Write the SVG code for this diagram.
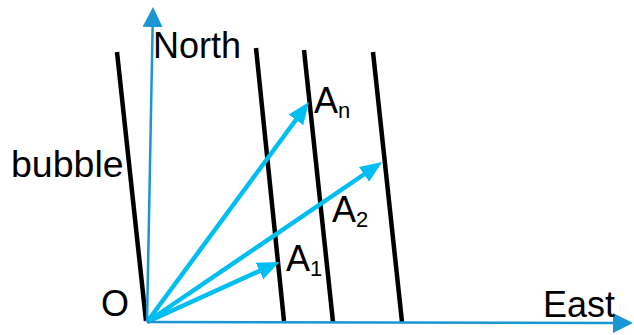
<svg xmlns="http://www.w3.org/2000/svg" width="634" height="335" viewBox="0 0 634 335">
<defs>
<style>
.wall{stroke:#000;stroke-width:4.5;fill:none}
.axis{stroke:#1A96D4;stroke-width:2.5;fill:none}
.vec{stroke:#00BEF2;stroke-width:4.5;fill:none}
text{font-family:"Liberation Sans",Arial,Helvetica,sans-serif;fill:#000}
.lbl{font-size:36px}
.sub{font-size:22px}
</style>
<marker id="axhead" markerUnits="userSpaceOnUse" markerWidth="20" markerHeight="20" refX="4" refY="10" orient="auto">
<path d="M0,0 L20,10 L0,20 z" fill="#1A96D4"/>
</marker>
<marker id="vhead" markerUnits="userSpaceOnUse" markerWidth="22" markerHeight="20" refX="6" refY="10" orient="auto">
<path d="M0,1 L22,10 L0,19 z" fill="#00BEF2"/>
</marker>
</defs>
<g id="walls">
<line class="wall" x1="117" y1="52" x2="146" y2="321"/>
<line class="wall" x1="256" y1="48" x2="284" y2="321"/>
<line class="wall" x1="304" y1="50" x2="333" y2="322"/>
<line class="wall" x1="373" y1="52" x2="402" y2="322"/>
</g>
<g id="connectors">
<line class="vec" x1="147" y1="322" x2="265" y2="268.5" marker-end="url(#vhead)"/>
<line class="vec" x1="147" y1="322" x2="369" y2="171" marker-end="url(#vhead)"/>
<line class="vec" x1="147" y1="322" x2="299.5" y2="115" marker-end="url(#vhead)"/>
<line class="axis" x1="147" y1="322" x2="152.7" y2="23" marker-end="url(#axhead)"/>
<line class="axis" x1="147" y1="322" x2="617" y2="323" marker-end="url(#axhead)"/>
</g>
<g id="north"><text class="lbl" x="153" y="58">North</text></g>
<g id="east"><text class="lbl" x="543" y="317">East</text></g>
<g id="bubble"><text class="lbl" x="11" y="177" style="font-size:37.5px">bubble</text></g>
<g id="origin"><text class="lbl" x="101" y="316">O</text></g>
<g id="a1"><text class="lbl" x="286" y="271">A<tspan class="sub" dy="5">1</tspan></text></g>
<g id="a2"><text class="lbl" x="332" y="222">A<tspan class="sub" dy="5">2</tspan></text></g>
<g id="an"><text class="lbl" x="314" y="113">A<tspan class="sub" dy="5">n</tspan></text></g>
</svg>
